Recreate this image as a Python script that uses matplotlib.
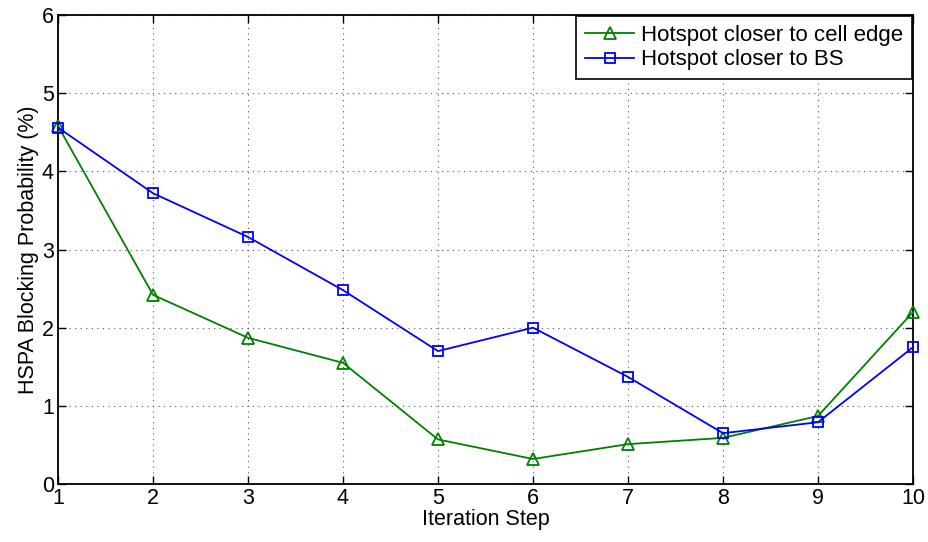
import matplotlib.pyplot as plt

plt.rcParams['font.family'] = ['Liberation Sans', 'DejaVu Sans']

steps = [1, 2, 3, 4, 5, 6, 7, 8, 9, 10]
cell_edge = [4.58, 2.42, 1.87, 1.55, 0.57, 0.32, 0.51, 0.59, 0.87, 2.20]
near_bs = [4.56, 3.72, 3.16, 2.48, 1.70, 2.00, 1.37, 0.65, 0.79, 1.75]

fig = plt.figure(figsize=(9.29, 5.42), dpi=100)
ax = fig.add_axes([58/929, 58/542, (913-58)/929, (484-15)/542])

ax.plot(steps, cell_edge, color='#008000', marker='^', markersize=9,
        markerfacecolor='none', markeredgewidth=1.3, linewidth=1.3,
        label='Hotspot closer to cell edge', clip_on=False, zorder=3)
ax.plot(steps, near_bs, color='#0000ff', marker='s', markersize=7.5,
        markerfacecolor='none', markeredgewidth=1.3, linewidth=1.3,
        label='Hotspot closer to BS', clip_on=False, zorder=3)

ax.set_xlim(1, 10)
ax.set_ylim(0, 6)
ax.set_xticks(steps)
ax.set_yticks(range(0, 7))
ax.grid(True, linestyle=(0, (1, 4)), color='#555555', linewidth=0.8)
ax.tick_params(direction='in', labelsize=15.5, length=6, width=1, top=True, right=True, pad=3)
for s in ax.spines.values():
    s.set_linewidth(1.3)

ax.set_xlabel('Iteration Step', fontsize=15.5, labelpad=0)
ax.set_ylabel('HSPA Blocking Probability (%)', fontsize=15.5, labelpad=2)

leg = ax.legend(loc='upper right', fontsize=16, fancybox=False, framealpha=1,
                edgecolor='black', borderaxespad=0.05, handlelength=2.2,
                handletextpad=0.3, borderpad=0.4, labelspacing=0.15)
leg.get_frame().set_linewidth(1.2)

plt.savefig('out.png', dpi=100)
